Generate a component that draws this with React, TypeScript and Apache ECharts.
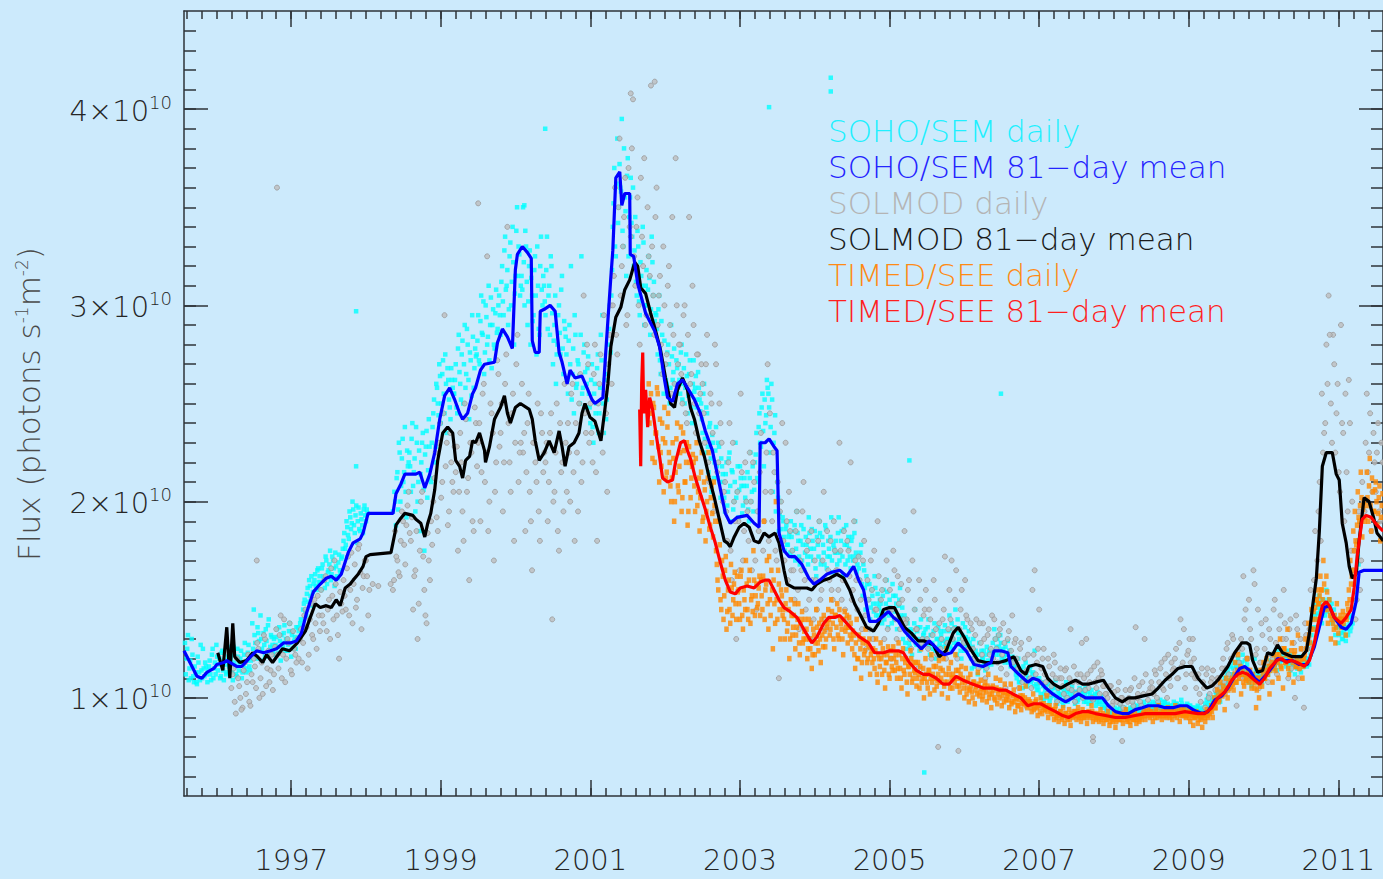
import React, { useEffect, useRef } from "react";
import * as echarts from "echarts";

// ---------- axes ----------
const X_MIN = 1995.567;
const X_MAX = 2011.597;
const Y_MIN = 0.5;
const Y_MAX = 4.5;
const yearTicks = [1997, 1999, 2001, 2003, 2005, 2007, 2009, 2011];
const fluxTicks = [1, 2, 3, 4];
const yearMinorTicks: number[] = [];
for (let i = 0; i < 80; i++) yearMinorTicks.push(+(1995.6 + 0.2 * i).toFixed(1));
const fluxMinorTicks: number[] = [];
for (let i = 0; i <= 38; i++) fluxMinorTicks.push(+(0.6 + 0.1 * i).toFixed(1));

// ---------- legend ----------
const legendLabels = [
  "SOHO/SEM daily",
  "SOHO/SEM 81\u2212day mean",
  "SOLMOD daily",
  "SOLMOD 81\u2212day mean",
  "TIMED/SEE daily",
  "TIMED/SEE 81\u2212day mean",
];
const legendColors = ["#1ff0ff", "#2424ff", "#b4b4b4", "#1a1a1a", "#ff8a14", "#ff1e1e"];

// ---------- SOHO/SEM daily (units of 1e10): two interleaved readings, each every 0.02 yr ----------
const sohoDailyStep = 0.02;
const sohoDailyStartA = 1995.58;
const sohoDailyA: (number | null)[] = [
  1.28,1.20,1.32,1.15,1.10,1.22,1.08,1.13,1.07,1.18,1.09,1.14,1.25,1.11,1.16,
  1.08,1.16,1.12,1.22,1.10,1.18,1.27,1.14,1.20,1.11,1.24,1.09,1.17,1.13,1.21,
  1.15,1.22,1.09,1.18,1.12,1.25,1.14,1.20,1.10,1.17,1.28,1.13,1.23,1.16,1.19,
  1.38,1.45,1.28,1.20,1.33,1.24,1.30,1.19,1.27,1.35,1.22,1.40,1.26,1.31,1.23,
  1.22,1.31,1.26,1.36,1.19,1.28,1.33,1.24,1.30,1.27,1.38,1.21,1.34,1.29,1.25,
  1.30,1.34,1.38,1.33,1.45,1.50,1.42,1.56,1.60,1.52,1.47,1.58,1.63,1.55,1.66,
  1.62,1.55,1.68,1.60,1.72,1.58,1.65,1.75,1.63,1.70,1.57,1.67,1.61,1.73,1.64,
  1.72,1.80,1.76,1.90,1.83,1.95,1.86,2.00,1.88,1.93,1.79,1.97,1.85,1.91,1.84,
  1.98,1.90,1.94,null,null,null,null,null,null,null,null,null,null,null,null,
  null,null,null,null,1.95,2.05,1.88,2.15,2.30,2.00,2.22,2.10,2.38,1.92,2.18,
  2.25,2.05,2.40,2.15,1.95,2.30,2.10,1.85,2.20,2.35,1.75,2.28,2.02,2.42,2.12,
  2.30,2.45,2.20,2.60,2.50,2.70,2.40,2.65,2.55,2.75,2.35,2.62,2.48,2.68,2.58,
  2.55,2.70,2.45,2.85,2.60,2.75,2.50,2.90,2.65,2.80,2.42,2.72,2.95,2.58,2.78,
  2.75,2.95,2.70,3.05,2.85,2.65,3.00,2.80,3.10,2.90,2.68,2.98,2.78,3.08,2.88,
  3.05,2.85,3.20,2.95,3.35,3.10,2.90,3.25,3.00,3.40,2.80,3.15,3.50,3.30,3.05,
  3.15,3.50,3.00,3.30,2.90,3.20,2.80,3.05,2.95,3.25,2.75,3.10,2.85,3.35,3.00,
  3.10,2.95,3.35,3.05,2.85,3.20,2.70,2.90,2.60,2.80,3.00,2.75,3.15,2.65,2.88,
  2.75,2.55,2.90,3.20,2.65,2.45,2.85,2.60,2.70,2.50,3.25,2.58,2.80,2.48,2.68,
  2.55,2.40,2.70,2.30,2.60,2.50,2.75,2.45,2.85,2.95,2.35,2.65,2.52,2.80,3.00,
  3.05,3.40,3.70,3.25,3.85,3.50,3.60,3.95,3.30,3.55,3.15,3.75,3.45,3.65,3.35,
  3.20,3.45,3.05,3.30,2.95,3.15,3.40,2.90,3.10,3.00,3.25,2.85,3.35,3.05,2.92,
  2.95,2.75,3.05,2.65,2.85,2.55,2.70,2.60,2.80,2.50,2.90,2.62,2.78,2.55,2.68,
  2.70,2.55,2.80,2.60,2.50,2.75,2.45,2.65,2.55,2.40,2.72,2.58,2.48,2.66,2.52,
  2.50,2.35,2.60,2.25,2.45,2.15,2.40,2.05,2.30,2.20,2.38,2.12,2.28,2.02,2.18,
  2.10,1.95,2.20,2.05,2.25,1.90,2.15,2.00,2.30,2.05,1.92,2.18,2.08,1.98,2.12,
  2.00,2.15,1.90,2.25,2.05,1.95,2.20,2.35,2.10,2.45,2.28,2.55,2.18,2.40,2.62,
  2.55,2.25,2.60,2.05,2.35,1.95,2.10,1.85,2.00,1.80,1.90,1.75,1.88,1.78,1.84,
  1.90,1.75,1.85,1.70,1.95,1.80,1.68,1.88,1.78,1.65,1.82,1.72,1.92,1.76,1.86,
  1.70,1.85,1.62,1.78,1.90,1.68,1.82,1.74,1.88,1.66,1.80,1.72,1.92,1.64,1.76,
  1.80,1.68,1.92,1.74,1.85,1.62,1.78,1.88,1.70,1.76,1.66,1.82,1.72,1.90,1.64,
  1.72,1.60,1.78,1.52,1.65,1.45,1.58,1.50,1.40,1.55,1.48,1.62,1.42,1.53,1.46,
  1.48,1.38,1.55,1.43,1.60,1.36,1.50,1.45,1.58,1.40,1.52,1.35,1.47,1.56,1.41,
  1.30,1.42,1.25,1.38,1.28,1.35,1.22,1.32,1.45,1.27,1.36,1.24,1.40,1.29,1.33,
  1.35,1.28,1.40,1.22,1.32,1.25,1.38,1.20,1.30,1.26,1.34,1.23,1.29,1.37,1.27,
  1.30,1.42,1.25,1.35,1.28,1.45,1.22,1.33,1.27,1.20,1.38,1.24,1.31,1.26,1.34,
  1.25,1.15,1.30,1.18,1.22,1.12,1.28,1.16,1.20,1.24,1.14,1.26,1.19,1.23,1.17,
  1.28,1.35,1.22,1.30,1.26,1.32,1.20,1.25,1.18,1.22,1.29,1.24,1.16,1.21,1.19,
  1.15,1.10,1.20,1.08,1.14,1.05,1.12,1.18,1.06,1.10,1.16,1.09,1.13,1.24,1.07,
  1.06,1.10,1.02,1.08,0.99,1.04,1.00,1.07,0.98,1.03,1.05,1.01,1.09,0.97,1.02,
  1.00,1.05,0.96,1.02,1.08,0.98,1.04,1.00,1.06,1.01,0.97,1.03,0.99,1.05,1.02,
  1.03,0.98,1.05,1.00,0.97,1.02,1.04,0.99,1.01,0.96,1.03,0.98,1.00,0.95,0.99,
  0.98,0.94,0.96,0.92,0.95,0.90,0.93,0.91,0.94,0.92,0.96,0.90,0.93,0.95,0.91,
  0.93,0.90,0.95,0.92,0.97,0.94,0.91,0.96,0.93,0.95,0.92,0.98,0.94,0.96,0.93,
  0.97,0.94,0.98,0.95,0.93,0.97,0.95,0.99,0.94,0.96,0.98,0.95,0.97,0.94,0.96,
  0.95,0.98,0.94,0.97,0.93,0.96,0.99,0.94,0.92,0.95,0.97,0.93,0.96,0.94,0.95,
  0.94,0.91,0.96,0.93,0.90,0.95,0.92,0.97,0.99,1.01,0.93,0.96,0.98,1.00,1.03,
  1.00,1.04,0.98,1.07,1.03,1.10,1.06,1.14,1.09,1.16,1.12,1.18,1.08,1.15,1.20,
  1.18,1.12,1.22,1.15,1.10,1.17,1.08,1.13,1.06,1.10,1.20,1.14,1.09,1.11,1.07,
  1.08,1.13,1.10,1.16,1.12,1.19,1.15,1.22,1.18,1.21,1.14,1.24,1.17,1.20,1.23,
  1.20,1.16,1.24,1.18,1.14,1.22,1.17,1.12,1.19,1.15,1.21,1.13,1.18,1.16,1.20,
  1.16,1.20,1.25,1.32,1.40,1.36,1.48,1.43,1.52,1.45,1.38,1.50,1.42,1.55,1.46,
  1.50,1.42,1.38,1.45,1.32,1.36,1.28,1.40,1.33,1.30,1.37,1.29,1.35,1.41,1.34,
  1.42,1.50,1.58,1.65,1.72,
];
const sohoDailyStartB = 1995.59;
const sohoDailyB: (number | null)[] = [
  1.12,1.25,1.09,1.19,1.30,1.11,1.16,1.08,1.21,1.13,1.27,1.10,1.15,1.18,1.12,
  1.14,1.19,1.09,1.25,1.15,1.12,1.21,1.17,1.10,1.23,1.14,1.19,1.12,1.26,1.16,
  1.20,1.13,1.26,1.16,1.11,1.21,1.18,1.24,1.13,1.22,1.15,1.19,1.27,1.14,1.21,
  1.25,1.32,1.21,1.36,1.29,1.42,1.25,1.33,1.21,1.29,1.37,1.24,1.32,1.27,1.30,
  1.27,1.35,1.23,1.29,1.32,1.26,1.37,1.30,1.24,1.34,1.28,1.32,1.25,1.31,1.36,
  1.36,1.31,1.40,1.36,1.48,1.44,1.53,1.49,1.57,1.62,1.54,1.60,1.57,1.65,1.59,
  1.59,1.66,1.62,1.56,1.70,1.64,1.68,1.60,1.72,1.66,1.74,1.62,1.69,1.65,1.71,
  1.76,1.84,1.78,1.87,1.81,1.92,1.89,1.96,1.84,1.98,1.90,1.86,1.94,1.88,1.96,
  1.93,1.96,null,null,null,null,null,null,null,null,null,null,null,null,null,
  null,null,null,null,null,2.00,2.12,1.96,2.25,2.08,2.32,2.15,2.05,2.26,2.20,
  2.18,2.32,2.08,2.22,2.38,2.00,2.26,2.14,2.30,2.06,2.24,2.36,2.16,2.28,2.10,
  2.38,2.52,2.28,2.58,2.44,2.64,2.50,2.72,2.45,2.60,2.68,2.52,2.42,2.62,2.55,
  2.62,2.48,2.78,2.66,2.52,2.82,2.70,2.58,2.88,2.62,2.76,2.54,2.84,2.68,2.74,
  2.82,2.72,2.92,2.86,3.02,2.76,2.94,2.84,2.72,3.04,2.90,2.80,2.96,2.86,3.00,
  2.95,3.12,3.02,3.28,3.08,3.18,2.98,3.32,3.12,3.22,3.06,3.38,3.15,3.26,3.10,
  3.08,3.22,3.38,3.12,3.02,3.28,3.14,2.92,3.18,3.05,3.30,2.88,3.20,3.08,3.15,
  3.02,3.18,2.88,3.10,3.25,2.96,2.82,3.05,2.75,2.95,2.86,3.08,2.78,2.92,2.84,
  2.62,2.82,2.70,2.52,2.78,2.95,2.58,2.72,2.64,2.85,2.55,2.76,2.66,2.60,2.74,
  2.48,2.62,2.38,2.55,2.45,2.68,2.35,2.58,2.72,2.50,2.62,2.42,2.70,2.88,2.76,
  3.18,3.52,3.30,3.62,3.42,3.72,3.58,3.38,3.80,3.48,3.66,3.25,3.55,3.42,3.60,
  3.28,3.12,3.38,3.02,3.22,3.10,3.32,3.00,3.18,3.08,3.14,2.98,3.22,3.12,2.96,
  2.88,2.98,2.72,2.92,2.68,2.82,2.62,2.76,2.70,2.58,2.74,2.66,2.60,2.72,2.58,
  2.62,2.76,2.52,2.68,2.58,2.64,2.54,2.72,2.48,2.60,2.56,2.64,2.52,2.58,2.46,
  2.42,2.55,2.32,2.48,2.28,2.38,2.22,2.34,2.12,2.26,2.18,2.30,2.10,2.22,2.14,
  2.02,2.14,1.98,2.22,2.08,2.16,1.96,2.10,2.02,2.18,2.06,2.12,1.94,2.08,2.02,
  2.08,1.96,2.12,2.00,2.18,2.06,2.24,2.12,2.38,2.30,2.48,2.36,2.52,2.44,2.58,
  2.48,2.38,2.52,2.30,2.44,2.15,2.02,1.94,1.86,1.92,1.82,1.86,1.78,1.82,1.74,
  1.82,1.72,1.88,1.76,1.84,1.72,1.80,1.70,1.86,1.74,1.78,1.68,1.84,1.72,1.80,
  1.76,1.66,1.82,1.72,1.84,1.70,1.78,1.68,1.86,1.72,1.76,1.82,1.70,1.78,1.74,
  1.74,1.84,1.70,1.80,1.72,1.86,1.68,1.78,1.82,1.72,1.80,1.70,1.84,1.74,1.68,
  1.66,1.74,1.58,1.68,1.56,1.62,1.50,1.58,1.46,1.52,1.44,1.56,1.48,1.42,1.50,
  1.44,1.52,1.40,1.48,1.54,1.42,1.46,1.38,1.52,1.44,1.48,1.40,1.50,1.42,1.46,
  1.36,1.28,1.40,1.32,1.26,1.34,1.30,1.38,1.28,1.34,1.30,1.36,1.26,1.32,1.30,
  1.30,1.36,1.26,1.32,1.28,1.34,1.24,1.30,1.36,1.28,1.32,1.26,1.34,1.28,1.30,
  1.34,1.26,1.38,1.30,1.36,1.28,1.40,1.30,1.24,1.32,1.28,1.36,1.26,1.30,1.28,
  1.20,1.26,1.16,1.24,1.18,1.22,1.16,1.24,1.20,1.18,1.22,1.16,1.24,1.18,1.20,
  1.24,1.30,1.26,1.32,1.22,1.28,1.24,1.20,1.26,1.22,1.18,1.24,1.20,1.18,1.16,
  1.12,1.16,1.08,1.14,1.10,1.16,1.08,1.12,1.10,1.14,1.08,1.12,1.06,1.10,1.04,
  1.04,1.08,1.00,1.06,1.02,1.06,1.02,1.04,1.00,1.06,1.02,1.05,0.99,1.04,1.00,
  1.02,0.98,1.04,1.00,1.03,0.99,1.02,1.04,1.00,1.03,1.01,0.98,1.03,1.00,1.04,
  1.00,1.02,0.98,1.03,1.00,0.98,1.01,0.99,1.02,0.98,1.00,0.97,1.01,0.98,0.96,
  0.95,0.93,0.95,0.92,0.94,0.92,0.95,0.93,0.91,0.94,0.92,0.93,0.91,0.94,0.92,
  0.92,0.94,0.93,0.95,0.93,0.96,0.94,0.93,0.95,0.94,0.96,0.93,0.95,0.94,0.96,
  0.95,0.96,0.94,0.97,0.96,0.95,0.97,0.95,0.96,0.98,0.95,0.96,0.94,0.96,0.95,
  0.96,0.95,0.97,0.95,0.96,0.94,0.97,0.95,0.96,0.94,0.95,0.96,0.94,0.95,0.93,
  0.93,0.95,0.92,0.94,0.93,0.92,0.94,0.93,0.96,0.98,0.95,0.99,1.00,0.98,1.02,
  1.02,1.00,1.05,1.02,1.08,1.05,1.12,1.08,1.12,1.10,1.15,1.12,1.16,1.12,1.18,
  1.15,1.18,1.13,1.19,1.12,1.14,1.10,1.12,1.09,1.12,1.10,1.08,1.12,1.09,1.10,
  1.11,1.10,1.14,1.12,1.16,1.14,1.17,1.19,1.16,1.19,1.18,1.20,1.19,1.22,1.20,
  1.18,1.21,1.17,1.20,1.18,1.16,1.19,1.17,1.15,1.18,1.16,1.19,1.16,1.18,1.17,
  1.19,1.17,1.22,1.28,1.35,1.42,1.40,1.46,1.48,1.50,1.42,1.46,1.48,1.44,1.50,
  1.46,1.48,1.40,1.42,1.36,1.40,1.32,1.36,1.30,1.34,1.32,1.36,1.32,1.38,1.36,
  1.38,1.46,1.54,1.60,1.68,
];
const sohoDailyExtra: [number, number][] = [
  [1997.868, 2.97], [1997.868, 2.18], [2000.396, 3.9], [2000.117, 3.51], [2003.389, 4.01],
  [2004.214, 4.16], [2004.214, 4.09], [2005.265, 2.21], [2005.464, 0.62], [2006.489, 2.55],
];

// ---------- SOLMOD daily: two interleaved readings, each every 0.03 yr ----------
const solmodDailyStep = 0.03;
const solmodDailyStartA = 1996.2;
const solmodDailyA: (number | null)[] = [
  1.05,1.15,0.92,1.10,1.00,0.95,1.18,1.08,0.98,1.12,
  1.20,1.05,1.25,1.10,1.02,1.30,1.15,1.08,1.22,1.12,
  1.35,1.15,1.42,1.22,1.08,1.30,1.38,1.12,1.25,1.18,
  1.20,1.35,1.28,1.45,1.15,1.40,1.32,1.50,1.25,1.42,
  1.55,1.38,1.62,1.45,1.30,1.52,1.70,1.42,1.20,1.48,
  1.60,1.45,1.72,1.55,1.38,1.68,1.50,1.78,1.35,1.62,
  1.70,1.42,null,1.58,null,null,null,null,null,null,
  null,1.58,1.55,1.85,1.70,1.62,1.95,1.78,1.88,2.05,
  1.80,1.45,1.65,1.30,1.75,2.05,1.55,1.38,1.70,1.90,
  2.00,2.25,1.85,2.40,2.10,2.95,2.30,1.95,2.20,2.05,
  2.15,1.75,2.35,1.95,2.50,2.05,1.60,2.25,1.85,2.40,
  2.30,1.90,2.55,2.10,3.25,2.00,2.45,1.70,2.20,2.65,
  2.35,1.95,2.60,3.40,2.20,2.45,1.80,2.70,2.10,2.30,
  2.25,1.85,2.40,2.05,1.65,2.30,2.10,1.95,2.45,2.15,
  2.20,1.90,2.35,1.40,2.05,2.50,1.75,2.15,1.95,2.30,
  2.40,2.00,2.60,1.80,2.25,2.50,2.10,3.05,2.35,2.70,
  2.50,2.20,2.80,1.80,2.60,2.35,2.95,2.45,2.70,3.00,
  3.00,3.60,2.75,3.85,3.20,3.45,2.90,3.70,3.35,4.05,
  3.10,3.55,2.80,3.35,3.75,2.95,3.25,4.12,3.05,3.45,
  2.90,3.15,2.65,3.00,2.75,3.20,2.55,2.85,3.75,2.70,
  2.80,2.50,3.00,2.40,3.45,2.65,2.90,2.35,2.75,2.55,
  2.60,2.30,2.85,2.10,2.50,1.95,2.70,2.20,2.40,2.00,
  2.10,1.80,2.40,1.60,2.00,1.30,1.90,2.55,1.70,2.20,
  1.95,2.25,1.65,2.10,1.45,1.85,2.35,1.75,2.05,2.70,
  2.45,1.90,2.15,1.70,1.10,2.00,1.80,2.30,1.60,1.85,
  1.75,1.50,1.95,1.35,1.65,2.10,1.45,1.80,1.30,1.60,
  1.70,1.45,1.90,1.55,2.05,1.35,1.65,1.80,1.50,1.75,
  1.65,2.30,1.50,1.85,1.40,1.75,2.20,1.55,1.70,1.45,
  1.60,1.35,1.80,1.25,1.50,1.70,1.30,1.45,1.90,1.40,
  1.55,1.30,1.70,1.45,1.20,1.75,1.40,1.62,1.35,1.50,
  1.85,1.40,1.60,1.25,1.95,1.35,1.15,1.50,1.30,1.45,
  1.30,1.45,1.20,1.60,1.35,0.75,1.25,1.40,1.72,1.28,
  1.55,1.70,1.35,1.65,0.73,1.45,1.30,1.60,1.40,1.25,
  1.35,1.20,1.40,1.15,1.28,1.38,1.10,1.32,1.22,1.42,
  1.40,1.25,1.32,1.15,1.38,1.05,1.30,1.20,1.42,1.28,
  1.20,1.05,1.28,1.12,0.98,1.22,1.10,1.55,1.65,1.18,
  1.45,1.15,1.25,1.08,1.20,1.02,1.12,1.18,0.98,1.10,
  1.10,1.02,1.15,1.05,1.35,1.08,0.98,1.12,1.04,1.28,
  1.10,1.30,1.05,1.14,0.99,1.08,1.18,1.02,1.12,1.06,
  1.02,0.95,1.06,0.98,0.92,1.04,0.97,1.00,0.94,0.99,
  1.00,1.05,0.96,1.36,1.02,0.98,1.08,1.30,0.95,1.03,
  1.08,1.02,1.12,0.98,1.15,1.05,1.20,1.00,1.10,1.18,
  1.15,1.25,1.10,1.40,1.18,1.05,1.22,1.30,1.12,1.20,
  1.05,1.12,0.98,1.08,0.95,1.15,1.02,1.10,0.97,1.06,
  1.10,1.02,1.20,1.15,1.28,1.05,1.32,1.22,0.96,1.18,
  1.30,1.62,1.45,1.20,1.35,1.10,1.58,1.25,1.05,1.38,
  1.15,1.40,1.08,1.30,1.20,1.50,1.12,1.35,1.25,1.55,
  1.30,1.10,1.40,1.20,1.00,1.35,1.15,1.25,0.95,1.32,
  1.30,1.55,1.45,1.85,1.70,2.10,2.55,2.35,2.80,3.05,
  2.50,2.85,2.25,2.60,2.05,2.40,1.90,2.15,2.62,1.75,
  1.65,1.40,1.80,1.55,2.10,1.95,2.55,2.25,1.85,2.35,
  2.05,2.40,1.90,2.20,
];
const solmodDailyStartB = 1996.215;
const solmodDailyB: (number | null)[] = [
  1.12,0.98,1.20,1.06,0.94,1.14,1.02,1.22,0.96,1.08,
  1.16,1.28,1.00,1.18,1.32,1.06,1.24,1.14,1.04,1.26,
  1.22,1.32,1.10,1.40,1.20,1.28,1.14,1.34,1.22,1.30,
  1.30,1.18,1.42,1.36,1.22,1.48,1.30,1.38,1.52,1.34,
  1.42,1.60,1.34,1.50,1.66,1.40,1.58,1.32,1.54,1.44,
  1.52,1.66,1.42,1.74,1.58,1.46,1.76,1.64,1.56,1.70,
  1.62,1.55,null,null,null,1.57,null,null,null,null,
  null,null,1.60,1.72,1.64,1.80,1.90,1.68,1.98,1.84,
  1.92,1.62,1.85,1.48,2.00,1.72,1.42,1.84,1.60,1.78,
  2.12,1.92,2.30,2.02,2.45,2.18,1.88,2.35,2.10,2.28,
  2.28,2.05,2.20,1.80,2.42,2.12,2.30,1.90,2.48,2.18,
  2.40,2.15,2.60,2.25,1.85,2.50,2.35,2.05,2.72,2.28,
  2.50,2.20,2.75,2.40,2.05,2.55,2.30,2.85,2.25,2.60,
  2.35,2.15,2.55,1.90,2.30,2.20,2.50,1.80,2.35,2.25,
  2.30,2.10,2.45,2.00,2.25,1.85,2.40,2.20,2.60,2.05,
  2.25,2.55,2.15,2.40,1.95,2.65,2.20,2.45,2.80,2.30,
  2.35,2.65,2.15,2.50,2.75,2.25,2.55,2.05,2.85,2.60,
  3.15,2.85,3.50,3.05,3.30,3.65,2.95,3.40,3.80,3.25,
  3.40,3.00,3.65,3.20,2.90,3.50,3.15,3.30,2.85,3.60,
  3.05,2.80,3.30,2.70,3.10,2.90,3.45,2.60,3.00,2.80,
  2.65,2.95,2.45,2.85,2.60,3.10,2.50,2.75,2.45,2.70,
  2.45,2.70,2.20,2.55,2.35,2.80,2.15,2.50,2.30,2.05,
  1.95,2.20,1.75,2.30,1.90,2.05,1.65,2.15,1.85,2.00,
  1.80,2.00,2.20,1.70,1.95,2.15,1.60,1.90,2.25,1.80,
  2.05,2.25,1.75,2.10,1.95,2.40,1.70,1.90,2.05,1.65,
  1.65,1.85,1.55,1.70,1.95,1.60,1.75,1.50,1.85,1.40,
  1.60,1.80,1.50,1.70,1.40,1.85,1.60,1.55,1.90,1.65,
  1.55,1.75,1.60,1.45,1.80,1.62,1.50,1.90,1.60,1.72,
  1.50,1.70,1.42,1.60,1.35,1.55,1.75,1.45,1.62,1.50,
  1.42,1.60,1.35,1.55,1.45,1.65,1.30,1.48,1.58,1.40,
  1.38,1.55,1.30,1.70,1.45,1.35,1.60,1.28,1.42,1.55,
  1.25,1.40,1.32,1.50,1.22,1.38,1.30,1.45,1.20,1.35,
  1.40,1.30,1.50,1.20,1.35,1.55,1.28,1.42,1.25,1.38,
  1.25,1.32,1.18,1.38,1.22,1.30,1.15,1.35,1.25,1.20,
  1.30,1.18,1.35,1.22,1.28,1.12,1.34,1.24,1.18,1.30,
  1.15,1.25,1.08,1.20,1.14,1.30,1.05,1.22,1.12,1.25,
  1.08,1.20,1.12,1.02,1.16,1.06,1.22,1.10,1.05,1.15,
  1.06,1.14,1.00,1.10,1.04,1.16,1.02,1.08,1.12,1.00,
  1.04,1.12,1.08,1.00,1.16,1.05,1.10,1.14,1.06,1.02,
  1.00,1.06,0.96,1.03,0.98,1.08,1.00,0.95,1.04,0.98,
  1.04,0.98,1.10,1.00,1.06,0.96,1.02,1.12,0.99,1.05,
  1.05,1.14,1.00,1.08,1.18,1.04,1.12,1.22,1.06,1.14,
  1.20,1.10,1.28,1.16,1.35,1.12,1.24,1.18,1.30,1.10,
  1.10,1.02,1.15,1.05,1.12,1.00,1.08,1.14,1.04,1.10,
  1.05,1.15,1.08,1.25,1.12,1.20,1.30,1.14,1.24,1.10,
  1.25,1.40,1.20,1.50,1.30,1.65,1.22,1.45,1.18,1.32,
  1.25,1.18,1.35,1.22,1.45,1.28,1.20,1.42,1.30,1.38,
  1.22,1.35,1.15,1.28,1.42,1.10,1.30,1.20,1.38,1.25,
  1.35,1.25,1.60,1.50,1.95,1.80,2.25,2.40,2.60,2.85,
  2.30,2.70,2.45,2.15,2.90,2.35,2.55,1.95,2.40,2.00,
  1.75,1.50,1.95,1.70,2.00,2.30,2.15,2.45,2.05,2.20,
  2.25,1.95,2.30,2.10,
];
const solmodDailyExtra: [number, number][] = [
  [1996.81, 3.6], [1996.54, 1.7], [2001.54, 4.08], [2001.86, 4.14], [1999.5, 3.52],
  [2007.72, 0.78], [2007.72, 0.8], [2008.11, 0.78],
];

// ---------- TIMED/SEE daily: two interleaved readings, each every 0.02 yr ----------
const seeDailyStep = 0.02;
const seeDailyStartA = 2001.78;
const seeDailyA: number[] = [
  2.60,2.45,2.30,2.50,2.20,2.35,2.55,2.10,2.25,2.40,2.05,2.30,2.15,2.45,2.20,
  2.00,2.30,1.90,2.15,2.40,2.05,2.25,1.95,2.35,2.10,2.20,1.88,2.28,2.02,2.18,
  2.20,1.95,2.30,2.05,1.85,2.15,1.90,2.10,1.80,2.00,2.25,1.88,2.08,1.82,1.98,
  1.75,1.60,1.90,1.50,1.70,1.40,1.65,1.35,1.55,1.45,1.68,1.42,1.58,1.48,1.62,
  1.55,1.40,1.65,1.35,1.50,1.70,1.45,1.60,1.38,1.52,1.75,1.42,1.58,1.48,1.62,
  1.60,1.45,1.90,1.55,1.70,1.35,1.50,1.65,1.25,1.48,2.00,1.40,1.58,1.30,1.52,
  1.45,1.30,1.55,1.38,1.20,1.50,1.32,1.42,1.25,1.36,1.48,1.22,1.40,1.28,1.34,
  1.30,1.20,1.40,1.25,1.15,1.35,1.22,1.45,1.28,1.38,1.18,1.32,1.42,1.26,1.36,
  1.45,1.32,1.50,1.38,1.25,1.42,1.48,1.30,1.40,1.35,1.22,1.44,1.36,1.28,1.41,
  1.38,1.25,1.32,1.15,1.40,1.20,1.30,1.10,1.28,1.22,1.35,1.18,1.26,1.12,1.24,
  1.25,1.15,1.30,1.08,1.20,1.28,1.12,1.22,1.05,1.18,1.26,1.10,1.24,1.14,1.20,
  1.22,1.10,1.28,1.15,1.05,1.25,1.12,1.20,1.02,1.16,1.24,1.08,1.18,1.13,1.06,
  1.18,1.05,1.25,1.10,1.00,1.20,1.08,1.14,1.02,1.22,1.12,1.04,1.16,1.09,1.19,
  1.15,1.02,1.20,1.08,1.25,1.00,1.12,1.18,1.05,1.10,1.22,1.06,1.14,1.03,1.16,
  1.10,1.00,1.15,1.05,0.98,1.12,1.03,1.08,0.97,1.06,1.13,1.01,1.09,0.99,1.04,
  1.08,0.98,1.12,1.02,0.95,1.06,1.00,1.10,0.97,1.04,1.09,0.96,1.03,1.07,0.99,
  1.02,0.95,1.07,0.98,1.04,0.93,1.00,0.96,1.05,0.94,1.01,0.97,1.06,0.95,0.99,
  0.98,0.93,1.02,0.95,0.99,0.91,0.96,1.00,0.92,0.97,0.94,1.01,0.90,0.96,0.93,
  0.94,0.89,0.96,0.91,0.88,0.93,0.90,0.95,0.87,0.92,0.89,0.94,0.86,0.91,0.93,
  0.93,0.89,0.95,0.91,0.88,0.94,0.90,0.92,0.87,0.93,0.90,0.96,0.88,0.92,0.89,
  0.92,0.88,0.94,0.90,0.87,0.91,0.89,0.93,0.86,0.90,0.88,0.92,0.85,0.89,0.91,
  0.89,0.92,0.87,0.91,0.94,0.88,0.90,0.86,0.92,0.89,0.93,0.87,0.90,0.88,0.91,
  0.91,0.94,0.89,0.92,0.95,0.90,0.93,0.88,0.92,0.94,0.90,0.96,0.91,0.89,0.93,
  0.93,0.90,0.95,0.91,0.94,0.89,0.93,0.96,0.90,0.92,0.88,0.94,0.91,0.95,0.90,
  0.91,0.94,0.88,0.92,0.86,0.90,0.93,0.87,0.91,0.89,0.85,0.92,0.88,0.94,0.90,
  0.92,0.96,0.90,1.00,0.95,1.04,0.98,1.08,1.02,1.06,0.94,1.10,1.00,1.05,1.09,
  1.10,1.04,1.18,1.08,1.22,1.12,1.02,1.15,1.06,1.10,1.20,1.08,1.14,1.05,1.12,
  1.05,0.95,1.10,1.00,1.14,1.06,1.18,1.10,1.20,1.12,1.02,1.16,1.08,1.22,1.14,
  1.22,1.10,1.30,1.15,1.05,1.25,1.18,1.35,1.12,1.20,1.28,1.08,1.24,1.16,1.32,
  1.15,1.25,1.10,1.20,1.30,1.18,1.38,1.28,1.45,1.35,1.50,1.40,1.55,1.48,1.62,
  1.55,1.70,1.45,1.62,1.38,1.50,1.30,1.42,1.35,1.28,1.48,1.33,1.40,1.36,1.44,
  1.40,1.32,1.48,1.55,1.70,1.62,1.85,1.95,1.78,2.05,1.90,2.15,1.82,2.00,1.92,
  2.15,1.90,2.22,1.85,2.05,1.95,2.10,1.88,2.02,1.80,1.98,
];
const seeDailyStartB = 2001.79;
const seeDailyB: number[] = [
  2.40,2.55,2.22,2.48,2.35,2.58,2.28,2.42,2.18,2.32,2.48,2.12,2.38,2.25,2.08,
  2.12,2.22,2.00,2.32,2.08,2.18,2.38,2.02,2.26,2.10,2.30,1.95,2.20,2.12,2.24,
  2.08,2.22,1.98,2.12,2.02,2.25,1.92,2.06,1.95,2.12,1.86,2.02,1.94,2.10,1.90,
  1.68,1.55,1.78,1.45,1.62,1.52,1.72,1.44,1.60,1.38,1.56,1.50,1.64,1.40,1.54,
  1.48,1.62,1.42,1.55,1.45,1.58,1.40,1.65,1.50,1.44,1.60,1.52,1.46,1.56,1.42,
  1.52,1.62,1.40,1.58,1.48,1.72,1.42,1.55,1.60,1.38,1.50,1.65,1.45,1.55,1.42,
  1.40,1.48,1.34,1.45,1.30,1.42,1.36,1.48,1.32,1.40,1.28,1.38,1.44,1.30,1.40,
  1.35,1.25,1.30,1.38,1.22,1.32,1.28,1.36,1.24,1.30,1.40,1.26,1.34,1.30,1.38,
  1.40,1.35,1.44,1.30,1.42,1.36,1.32,1.45,1.38,1.30,1.40,1.34,1.42,1.36,1.32,
  1.30,1.34,1.22,1.28,1.20,1.32,1.25,1.18,1.30,1.24,1.28,1.20,1.30,1.22,1.18,
  1.20,1.24,1.12,1.22,1.16,1.20,1.25,1.14,1.18,1.22,1.12,1.20,1.16,1.26,1.14,
  1.18,1.15,1.22,1.10,1.20,1.14,1.18,1.08,1.16,1.12,1.20,1.10,1.14,1.18,1.10,
  1.12,1.16,1.08,1.15,1.10,1.12,1.05,1.14,1.10,1.08,1.16,1.10,1.06,1.12,1.08,
  1.10,1.14,1.06,1.12,1.08,1.15,1.05,1.10,1.12,1.08,1.14,1.10,1.06,1.12,1.08,
  1.05,1.08,1.02,1.10,1.04,1.06,1.00,1.08,1.04,1.02,1.07,1.03,1.05,1.01,1.06,
  1.03,1.06,1.00,1.05,1.02,1.04,0.99,1.05,1.02,1.00,1.04,1.01,0.98,1.03,1.01,
  0.99,1.02,0.97,1.01,0.98,1.00,0.96,0.99,1.01,0.97,0.98,1.00,0.96,0.98,0.97,
  0.95,0.97,0.94,0.98,0.95,0.96,0.93,0.97,0.95,0.94,0.96,0.93,0.95,0.94,0.92,
  0.92,0.94,0.90,0.92,0.91,0.93,0.89,0.91,0.92,0.90,0.91,0.89,0.92,0.90,0.91,
  0.91,0.93,0.90,0.92,0.90,0.91,0.92,0.90,0.91,0.92,0.91,0.93,0.90,0.91,0.90,
  0.90,0.91,0.89,0.92,0.90,0.89,0.91,0.90,0.88,0.90,0.89,0.91,0.88,0.90,0.89,
  0.90,0.89,0.91,0.90,0.89,0.91,0.88,0.90,0.91,0.89,0.90,0.89,0.91,0.90,0.89,
  0.92,0.91,0.93,0.91,0.92,0.93,0.91,0.92,0.90,0.93,0.92,0.91,0.93,0.92,0.91,
  0.91,0.93,0.92,0.90,0.93,0.92,0.91,0.93,0.92,0.94,0.91,0.92,0.93,0.91,0.92,
  0.92,0.90,0.93,0.91,0.90,0.92,0.91,0.89,0.92,0.90,0.91,0.90,0.92,0.91,0.93,
  0.94,0.93,0.97,0.95,0.98,1.01,0.99,1.03,1.01,1.04,1.02,1.05,1.04,1.08,1.06,
  1.07,1.12,1.08,1.14,1.10,1.16,1.12,1.08,1.12,1.09,1.14,1.11,1.10,1.08,1.10,
  1.08,1.04,1.10,1.06,1.09,1.12,1.10,1.14,1.12,1.16,1.14,1.18,1.15,1.17,1.19,
  1.18,1.22,1.16,1.20,1.25,1.18,1.22,1.15,1.20,1.24,1.18,1.22,1.16,1.20,1.18,
  1.18,1.20,1.16,1.22,1.25,1.28,1.32,1.35,1.40,1.44,1.46,1.50,1.48,1.52,1.55,
  1.50,1.58,1.48,1.54,1.45,1.42,1.40,1.38,1.42,1.36,1.40,1.38,1.42,1.40,1.38,
  1.42,1.40,1.45,1.50,1.58,1.65,1.75,1.80,1.88,1.92,1.98,2.02,1.96,1.90,1.98,
  2.02,2.08,1.98,2.12,1.95,2.06,2.00,1.94,2.08,1.92,2.04,
];

// ---------- 81-day means [year, flux/1e10] ----------
const sohoMean: [number, number][] = [
  [1995.567,1.24],[1995.74,1.11],[1995.806,1.10],[1995.873,1.13],[1995.966,1.15],[1996.006,1.17],[1996.099,1.18],[1996.139,1.19],[1996.272,1.16],[1996.339,1.16],[1996.458,1.21],[1996.538,1.24],[1996.631,1.23],[1996.724,1.24],[1996.804,1.25],[1996.897,1.28],[1996.99,1.28],[1997.07,1.29],[1997.137,1.33],[1997.203,1.43],[1997.296,1.54],[1997.389,1.58],[1997.469,1.61],[1997.536,1.62],[1997.602,1.60],[1997.669,1.63],[1997.762,1.74],[1997.828,1.79],[1997.922,1.81],[1997.961,1.84],[1998.028,1.94],[1998.361,1.94],[1998.401,2.04],[1998.467,2.09],[1998.52,2.14],[1998.667,2.14],[1998.72,2.15],[1998.786,2.07],[1998.853,2.14],[1998.919,2.25],[1998.986,2.42],[1999.052,2.54],[1999.119,2.58],[1999.185,2.52],[1999.252,2.45],[1999.292,2.42],[1999.358,2.45],[1999.425,2.55],[1999.465,2.58],[1999.531,2.67],[1999.585,2.70],[1999.718,2.71],[1999.758,2.81],[1999.824,2.88],[1999.891,2.84],[1999.957,2.78],[1999.997,3.18],[2000.024,3.26],[2000.09,3.30],[2000.157,3.27],[2000.21,3.24],[2000.223,2.82],[2000.263,2.76],[2000.316,2.76],[2000.33,2.97],[2000.383,2.98],[2000.462,3.00],[2000.529,2.97],[2000.582,2.76],[2000.622,2.71],[2000.689,2.60],[2000.729,2.67],[2000.795,2.63],[2000.888,2.64],[2000.955,2.58],[2001.021,2.52],[2001.061,2.50],[2001.167,2.53],[2001.207,2.77],[2001.273,3.14],[2001.3,3.28],[2001.34,3.65],[2001.393,3.68],[2001.42,3.51],[2001.46,3.57],[2001.526,3.57],[2001.533,3.26],[2001.579,3.25],[2001.633,3.11],[2001.739,2.96],[2001.859,2.87],[2001.925,2.79],[2001.992,2.62],[2002.032,2.53],[2002.098,2.51],[2002.165,2.60],[2002.231,2.62],[2002.298,2.58],[2002.391,2.52],[2002.471,2.45],[2002.537,2.36],[2002.631,2.26],[2002.724,2.09],[2002.804,1.94],[2002.87,1.89],[2002.963,1.92],[2003.096,1.93],[2003.19,1.89],[2003.256,1.87],[2003.27,2.30],[2003.336,2.30],[2003.389,2.32],[2003.456,2.28],[2003.496,2.26],[2003.522,1.84],[2003.589,1.75],[2003.655,1.72],[2003.735,1.72],[2003.828,1.68],[2003.921,1.61],[2003.988,1.58],[2004.068,1.60],[2004.161,1.63],[2004.227,1.64],[2004.334,1.65],[2004.427,1.62],[2004.52,1.67],[2004.587,1.60],[2004.653,1.55],[2004.733,1.39],[2004.826,1.39],[2004.893,1.41],[2004.986,1.44],[2005.052,1.41],[2005.119,1.39],[2005.199,1.34],[2005.318,1.29],[2005.425,1.25],[2005.531,1.29],[2005.664,1.24],[2005.731,1.22],[2005.824,1.23],[2005.917,1.28],[2006.023,1.24],[2006.129,1.17],[2006.249,1.16],[2006.356,1.18],[2006.396,1.24],[2006.489,1.24],[2006.582,1.23],[2006.622,1.16],[2006.728,1.12],[2006.848,1.08],[2006.915,1.10],[2006.994,1.09],[2007.088,1.05],[2007.181,1.02],[2007.261,1.00],[2007.354,0.98],[2007.447,1.00],[2007.527,1.02],[2007.62,1.00],[2007.713,1.00],[2007.846,1.00],[2007.926,0.96],[2008.019,0.93],[2008.112,0.92],[2008.192,0.92],[2008.285,0.94],[2008.378,0.95],[2008.458,0.96],[2008.591,0.96],[2008.684,0.95],[2008.791,0.95],[2008.884,0.96],[2008.977,0.96],[2009.057,0.94],[2009.11,0.93],[2009.177,0.92],[2009.256,0.93],[2009.35,0.99],[2009.443,1.01],[2009.522,1.05],[2009.615,1.11],[2009.682,1.15],[2009.748,1.16],[2009.815,1.14],[2009.881,1.10],[2009.948,1.08],[2010.041,1.12],[2010.121,1.16],[2010.187,1.20],[2010.28,1.19],[2010.387,1.19],[2010.48,1.17],[2010.586,1.17],[2010.679,1.26],[2010.746,1.36],[2010.812,1.46],[2010.879,1.47],[2010.945,1.41],[2011.038,1.36],[2011.105,1.35],[2011.171,1.38],[2011.238,1.49],[2011.278,1.64],[2011.344,1.65],[2011.6,1.65],
];
const solmodMean: [number, number][] = [
  [1996.019,1.23],[1996.086,1.14],[1996.139,1.36],[1996.179,1.10],[1996.219,1.38],[1996.245,1.21],[1996.312,1.18],[1996.405,1.19],[1996.485,1.23],[1996.551,1.21],[1996.618,1.18],[1996.671,1.22],[1996.751,1.18],[1996.844,1.23],[1996.884,1.25],[1996.977,1.24],[1997.083,1.28],[1997.19,1.34],[1997.256,1.41],[1997.323,1.48],[1997.389,1.46],[1997.469,1.47],[1997.536,1.46],[1997.602,1.50],[1997.655,1.47],[1997.722,1.56],[1997.789,1.58],[1997.828,1.60],[1997.895,1.63],[1997.961,1.67],[1998.001,1.72],[1998.055,1.73],[1998.334,1.74],[1998.387,1.84],[1998.401,1.88],[1998.454,1.91],[1998.52,1.94],[1998.627,1.93],[1998.667,1.91],[1998.733,1.89],[1998.786,1.82],[1998.826,1.89],[1998.866,1.94],[1998.919,2.06],[1998.959,2.21],[1999.026,2.35],[1999.092,2.38],[1999.159,2.35],[1999.199,2.21],[1999.252,2.18],[1999.292,2.12],[1999.332,2.21],[1999.385,2.23],[1999.425,2.31],[1999.465,2.30],[1999.518,2.35],[1999.585,2.26],[1999.598,2.20],[1999.651,2.28],[1999.718,2.42],[1999.758,2.45],[1999.798,2.48],[1999.851,2.54],[1999.891,2.45],[1999.931,2.40],[1999.997,2.48],[2000.064,2.50],[2000.183,2.47],[2000.223,2.42],[2000.263,2.31],[2000.316,2.21],[2000.383,2.25],[2000.449,2.31],[2000.516,2.25],[2000.582,2.36],[2000.622,2.28],[2000.662,2.18],[2000.715,2.28],[2000.782,2.30],[2000.848,2.35],[2000.888,2.45],[2000.928,2.50],[2000.995,2.43],[2001.061,2.41],[2001.101,2.36],[2001.141,2.31],[2001.194,2.47],[2001.234,2.60],[2001.274,2.79],[2001.34,2.94],[2001.407,2.99],[2001.46,3.08],[2001.526,3.13],[2001.593,3.22],[2001.633,3.20],[2001.673,3.09],[2001.739,3.06],[2001.806,2.96],[2001.872,2.87],[2001.939,2.77],[2002.005,2.63],[2002.072,2.50],[2002.125,2.48],[2002.165,2.57],[2002.231,2.63],[2002.298,2.57],[2002.338,2.48],[2002.391,2.42],[2002.457,2.31],[2002.524,2.23],[2002.59,2.12],[2002.657,2.02],[2002.724,1.91],[2002.79,1.80],[2002.83,1.79],[2002.87,1.77],[2002.923,1.82],[2002.99,1.87],[2003.056,1.89],[2003.123,1.87],[2003.19,1.80],[2003.256,1.79],[2003.323,1.84],[2003.389,1.82],[2003.469,1.84],[2003.522,1.79],[2003.589,1.65],[2003.629,1.58],[2003.722,1.56],[2003.802,1.56],[2003.895,1.56],[2003.961,1.55],[2004.028,1.58],[2004.121,1.60],[2004.201,1.61],[2004.294,1.63],[2004.387,1.61],[2004.467,1.55],[2004.533,1.48],[2004.6,1.43],[2004.693,1.36],[2004.786,1.34],[2004.852,1.38],[2004.919,1.45],[2004.999,1.46],[2005.065,1.46],[2005.132,1.41],[2005.199,1.36],[2005.292,1.33],[2005.385,1.29],[2005.465,1.29],[2005.585,1.27],[2005.664,1.21],[2005.757,1.24],[2005.85,1.33],[2005.917,1.36],[2005.996,1.31],[2006.063,1.26],[2006.183,1.19],[2006.289,1.18],[2006.382,1.18],[2006.462,1.18],[2006.555,1.19],[2006.662,1.21],[2006.755,1.14],[2006.821,1.12],[2006.861,1.16],[2006.954,1.17],[2007.047,1.16],[2007.114,1.10],[2007.194,1.07],[2007.287,1.05],[2007.38,1.07],[2007.486,1.09],[2007.58,1.07],[2007.659,1.07],[2007.753,1.08],[2007.859,1.09],[2007.926,1.05],[2008.019,1.00],[2008.112,0.98],[2008.192,1.00],[2008.285,1.00],[2008.391,1.01],[2008.511,1.02],[2008.591,1.05],[2008.684,1.09],[2008.777,1.12],[2008.857,1.15],[2008.95,1.16],[2009.043,1.16],[2009.123,1.10],[2009.243,1.05],[2009.309,1.06],[2009.389,1.09],[2009.522,1.16],[2009.615,1.23],[2009.708,1.28],[2009.775,1.28],[2009.815,1.27],[2009.855,1.19],[2009.921,1.13],[2009.988,1.14],[2010.054,1.23],[2010.121,1.22],[2010.187,1.27],[2010.254,1.23],[2010.32,1.22],[2010.387,1.21],[2010.507,1.21],[2010.573,1.24],[2010.613,1.33],[2010.653,1.46],[2010.706,1.61],[2010.746,1.85],[2010.786,2.18],[2010.839,2.25],[2010.905,2.25],[2010.919,2.25],[2010.972,2.14],[2011.012,2.11],[2011.052,1.89],[2011.105,1.79],[2011.145,1.67],[2011.185,1.61],[2011.238,1.63],[2011.278,1.80],[2011.344,2.02],[2011.411,2.00],[2011.477,1.91],[2011.517,1.84],[2011.6,1.80],
];
const seeMean: [number, number][] = [
  [2001.659,2.47],[2001.673,2.18],[2001.686,2.60],[2001.7,2.76],[2001.713,2.45],[2001.739,2.57],[2001.766,2.38],[2001.793,2.53],[2001.832,2.47],[2001.872,2.36],[2001.925,2.23],[2001.965,2.12],[2002.032,2.10],[2002.098,2.11],[2002.138,2.20],[2002.205,2.30],[2002.258,2.31],[2002.298,2.26],[2002.338,2.22],[2002.404,2.12],[2002.471,2.04],[2002.537,1.96],[2002.604,1.87],[2002.67,1.79],[2002.737,1.69],[2002.804,1.60],[2002.87,1.54],[2002.937,1.53],[2003.003,1.56],[2003.096,1.57],[2003.19,1.56],[2003.27,1.59],[2003.336,1.60],[2003.389,1.60],[2003.456,1.55],[2003.522,1.50],[2003.589,1.46],[2003.669,1.44],[2003.762,1.41],[2003.868,1.34],[2003.961,1.28],[2004.028,1.31],[2004.121,1.38],[2004.187,1.41],[2004.267,1.41],[2004.334,1.42],[2004.427,1.38],[2004.52,1.34],[2004.6,1.31],[2004.719,1.28],[2004.799,1.23],[2004.919,1.23],[2004.999,1.24],[2005.119,1.24],[2005.185,1.23],[2005.265,1.18],[2005.358,1.14],[2005.451,1.12],[2005.531,1.12],[2005.624,1.10],[2005.717,1.07],[2005.797,1.07],[2005.89,1.11],[2005.983,1.09],[2006.116,1.07],[2006.249,1.05],[2006.382,1.05],[2006.462,1.04],[2006.555,1.04],[2006.648,1.02],[2006.755,1.00],[2006.848,0.96],[2006.928,0.97],[2007.021,0.97],[2007.114,0.95],[2007.22,0.93],[2007.314,0.91],[2007.394,0.90],[2007.487,0.92],[2007.58,0.93],[2007.659,0.93],[2007.753,0.92],[2007.886,0.91],[2008.019,0.90],[2008.152,0.90],[2008.285,0.91],[2008.418,0.92],[2008.551,0.92],[2008.684,0.92],[2008.817,0.92],[2008.95,0.93],[2009.123,0.92],[2009.216,0.92],[2009.309,0.95],[2009.389,1.00],[2009.482,1.03],[2009.575,1.09],[2009.655,1.12],[2009.722,1.13],[2009.788,1.12],[2009.881,1.09],[2009.948,1.07],[2010.014,1.10],[2010.081,1.15],[2010.174,1.19],[2010.24,1.20],[2010.307,1.18],[2010.373,1.19],[2010.453,1.18],[2010.546,1.16],[2010.613,1.19],[2010.679,1.28],[2010.719,1.36],[2010.786,1.47],[2010.839,1.49],[2010.879,1.47],[2010.945,1.41],[2011.038,1.38],[2011.105,1.41],[2011.171,1.45],[2011.211,1.56],[2011.251,1.72],[2011.318,1.91],[2011.371,1.93],[2011.437,1.92],[2011.517,1.88],[2011.6,1.85],
];

const FONT = "'DejaVu Sans', 'Noto Sans', sans-serif";
const WEIGHT = 200;
const AXIS_COLOR = "#2e3338";
const LABEL_COLOR = "#262626";

function toPoints(start: number, step: number, vals: (number | null)[]): [number, number][] {
  const out: [number, number][] = [];
  vals.forEach((v, i) => {
    if (v != null) out.push([+(start + i * step).toFixed(3), v]);
  });
  return out;
}

export default function App() {
  const ref = useRef<HTMLDivElement>(null);
  useEffect(() => {
    if (!ref.current) return;
    const chart = echarts.init(ref.current, null, { renderer: "svg" });

    const axisLine = { show: true, lineStyle: { color: AXIS_COLOR, width: 1.5 } };
    const xBase = { type: "value" as const, min: X_MIN, max: X_MAX, splitLine: { show: false }, axisLine };
    const yBase = { type: "value" as const, min: Y_MIN, max: Y_MAX, splitLine: { show: false }, axisLine };
    const tickStyle = { color: AXIS_COLOR, width: 1.5 };
    const majorX = { show: true, inside: true, length: 16, customValues: yearTicks, lineStyle: tickStyle };
    const minorX = { show: true, inside: true, length: 8, customValues: yearMinorTicks, lineStyle: tickStyle };
    const majorY = { show: true, inside: true, length: 24, customValues: fluxTicks, lineStyle: tickStyle };
    const minorY = { show: true, inside: true, length: 12, customValues: fluxMinorTicks, lineStyle: tickStyle };

    const option = {
      animation: false,
      backgroundColor: "#cceafc",
      grid: { left: 184, right: -6, top: 11, bottom: 83, containLabel: false },
      xAxis: [
        {
          ...xBase,
          position: "bottom",
          axisTick: majorX,
          axisLabel: {
            customValues: yearTicks,
            formatter: (v: number) => String(v),
            margin: 49,
            color: LABEL_COLOR,
            fontFamily: FONT,
            fontWeight: WEIGHT,
            fontSize: 29,
          },
        },
        { ...xBase, position: "bottom", axisLine: { show: false }, axisTick: minorX, axisLabel: { show: false } },
        { ...xBase, position: "top", axisTick: majorX, axisLabel: { show: false } },
        { ...xBase, position: "top", axisLine: { show: false }, axisTick: minorX, axisLabel: { show: false } },
      ],
      yAxis: [
        {
          ...yBase,
          position: "left",
          axisTick: majorY,
          axisLabel: {
            customValues: fluxTicks,
            margin: 12,
            formatter: (v: number) => `{m|${v}\u00d710}{s|10}`,
            rich: {
              m: { fontSize: 29, fontFamily: FONT, fontWeight: WEIGHT, color: LABEL_COLOR, lineHeight: 32, verticalAlign: "bottom" },
              s: { fontSize: 18, fontFamily: FONT, fontWeight: WEIGHT, color: LABEL_COLOR, lineHeight: 18, verticalAlign: "top" },
            },
          },
        },
        { ...yBase, position: "left", axisLine: { show: false }, axisTick: minorY, axisLabel: { show: false } },
        { ...yBase, position: "right", axisTick: majorY, axisLabel: { show: false } },
        { ...yBase, position: "right", axisLine: { show: false }, axisTick: minorY, axisLabel: { show: false } },
      ],
      graphic: [
        {
          type: "text",
          x: 29,
          y: 404,
          rotation: Math.PI / 2,
          style: {
            text: "Flux (photons s{s|-1}m{s|-2})",
            fill: "#4a4a4a",
            fontSize: 31,
            fontFamily: FONT,
            fontWeight: WEIGHT,
            align: "center",
            verticalAlign: "middle",
            rich: {
              s: { fontSize: 17, fontFamily: FONT, fontWeight: WEIGHT, fill: "#4a4a4a", verticalAlign: "top" },
            },
          },
        },
        ...legendLabels.map((t, i) => ({
          type: "text",
          x: 828,
          y: 130.5 + i * 36,
          style: {
            text: t,
            fill: legendColors[i],
            fontSize: 31,
            fontFamily: FONT,
            fontWeight: WEIGHT,
            align: "left",
            verticalAlign: "middle",
          },
        })),
      ],
      series: [
        {
          type: "scatter",
          name: "SOHO/SEM daily",
          data: [
            ...toPoints(sohoDailyStartA, sohoDailyStep, sohoDailyA),
            ...toPoints(sohoDailyStartB, sohoDailyStep, sohoDailyB),
            ...sohoDailyExtra,
          ],
          symbol: "rect",
          symbolSize: 4.5,
          itemStyle: { color: "#00ffff" },
          silent: true,
          z: 1,
        },
        {
          type: "scatter",
          name: "SOLMOD daily",
          data: [
            ...toPoints(solmodDailyStartA, solmodDailyStep, solmodDailyA),
            ...toPoints(solmodDailyStartB, solmodDailyStep, solmodDailyB),
            ...solmodDailyExtra,
          ],
          symbol: "circle",
          symbolSize: 5,
          itemStyle: { color: "#bdbdbd", borderColor: "#9a9a9a", borderWidth: 1 },
          silent: true,
          z: 2,
        },
        {
          type: "scatter",
          name: "TIMED/SEE daily",
          data: [
            ...toPoints(seeDailyStartA, seeDailyStep, seeDailyA),
            ...toPoints(seeDailyStartB, seeDailyStep, seeDailyB),
          ],
          symbol: "rect",
          symbolSize: [4.5, 5.5],
          itemStyle: { color: "#ff8800" },
          silent: true,
          z: 3,
        },
        {
          type: "line",
          name: "SOLMOD 81-day mean",
          data: solmodMean,
          showSymbol: false,
          symbol: "none",
          lineStyle: { color: "#000000", width: 3.2 },
          silent: true,
          z: 4,
        },
        {
          type: "line",
          name: "SOHO/SEM 81-day mean",
          data: sohoMean,
          showSymbol: false,
          symbol: "none",
          lineStyle: { color: "#0000ff", width: 3.2 },
          silent: true,
          z: 5,
        },
        {
          type: "line",
          name: "TIMED/SEE 81-day mean",
          data: seeMean,
          showSymbol: false,
          symbol: "none",
          lineStyle: { color: "#ff0000", width: 3.2 },
          silent: true,
          z: 6,
        },
      ],
    };
    chart.setOption(option as any);
    return () => chart.dispose();
  }, []);
  return (
    <div
      ref={ref}
      style={{ position: "absolute", left: 0, top: 0, width: 1383, height: 879, background: "#cceafc" }}
    />
  );
}
